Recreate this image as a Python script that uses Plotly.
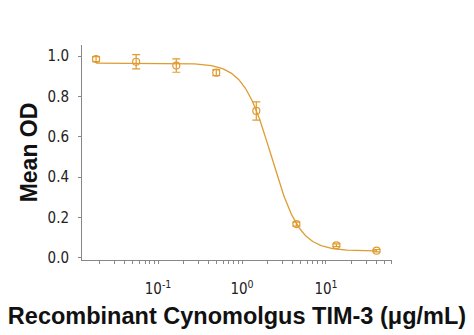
import numpy as np
import plotly.graph_objects as go

# Data
conc = [0.0183, 0.0549, 0.165, 0.494, 1.48, 4.44, 13.3, 40.0]
mean_od = [0.985, 0.972, 0.953, 0.918, 0.728, 0.167, 0.062, 0.035]
err_od = [0.012, 0.035, 0.033, 0.015, 0.045, 0.010, 0.007, 0.006]

# 4-parameter logistic fit parameters (estimated)
fit_top = 0.965
fit_bottom = 0.034
fit_ic50 = 2.25
fit_hill = 2.6

tick_vals = [0.1, 1, 10]
tick_text = ["10<sup>-1</sup>", "10<sup>0</sup>", "10<sup>1</sup>"]

color = "#DF9C30"
tick_font = "Liberation Sans Narrow, Arial Narrow, DejaVu Sans Condensed, sans-serif"
title_font = "Liberation Sans, Arial, sans-serif"

xs = np.logspace(np.log10(0.0183), np.log10(40.0), 300)
ys = fit_bottom + (fit_top - fit_bottom) / (1 + (xs / fit_ic50) ** fit_hill)

fig = go.Figure()
fig.add_trace(go.Scatter(x=xs, y=ys, mode="lines",
                         line=dict(color=color, width=1.3), hoverinfo="skip"))
fig.add_trace(go.Scatter(x=conc, y=mean_od, mode="markers",
                         marker=dict(symbol="circle-open", size=7, color=color,
                                     line=dict(width=1.2, color=color)),
                         error_y=dict(type="data", array=err_od, visible=True,
                                      color=color, thickness=1.2, width=4)))

fig.update_layout(
    width=474, height=335,
    margin=dict(l=82, r=82, t=45, b=75),
    paper_bgcolor="white", plot_bgcolor="white",
    showlegend=False,
    font=dict(family=tick_font, color="#222"),
)
fig.update_xaxes(
    type="log", range=[-1.905, 1.786],
    tickvals=tick_vals, ticktext=tick_text,
    showline=True, linecolor="#888", linewidth=1,
    ticks="outside", ticklen=3, tickcolor="#888",
    minor=dict(ticks="outside", ticklen=3, tickcolor="#888", dtick="D1"),
    showgrid=False, zeroline=False,
    tickfont=dict(size=15, family=tick_font),
    ticklabelstandoff=12,
    title=dict(text="Recombinant Cynomolgus TIM-3 (μg/mL)",
               font=dict(size=23.5, family=title_font, color="#111", weight="bold"),
               standoff=10),
)
fig.update_yaxes(
    range=[-0.011, 1.055],
    tickvals=[0, 0.2, 0.4, 0.6, 0.8, 1.0], tickformat=".1f",
    showline=True, linecolor="#888", linewidth=1,
    ticks="outside", ticklen=3, tickcolor="#888",
    showgrid=False, zeroline=False,
    tickfont=dict(size=15, family=tick_font),
    ticklabelstandoff=6,
    title=dict(text="Mean OD",
               font=dict(size=23, family=title_font, color="#111", weight="bold"),
               standoff=3),
)

fig.write_html("out.html")
